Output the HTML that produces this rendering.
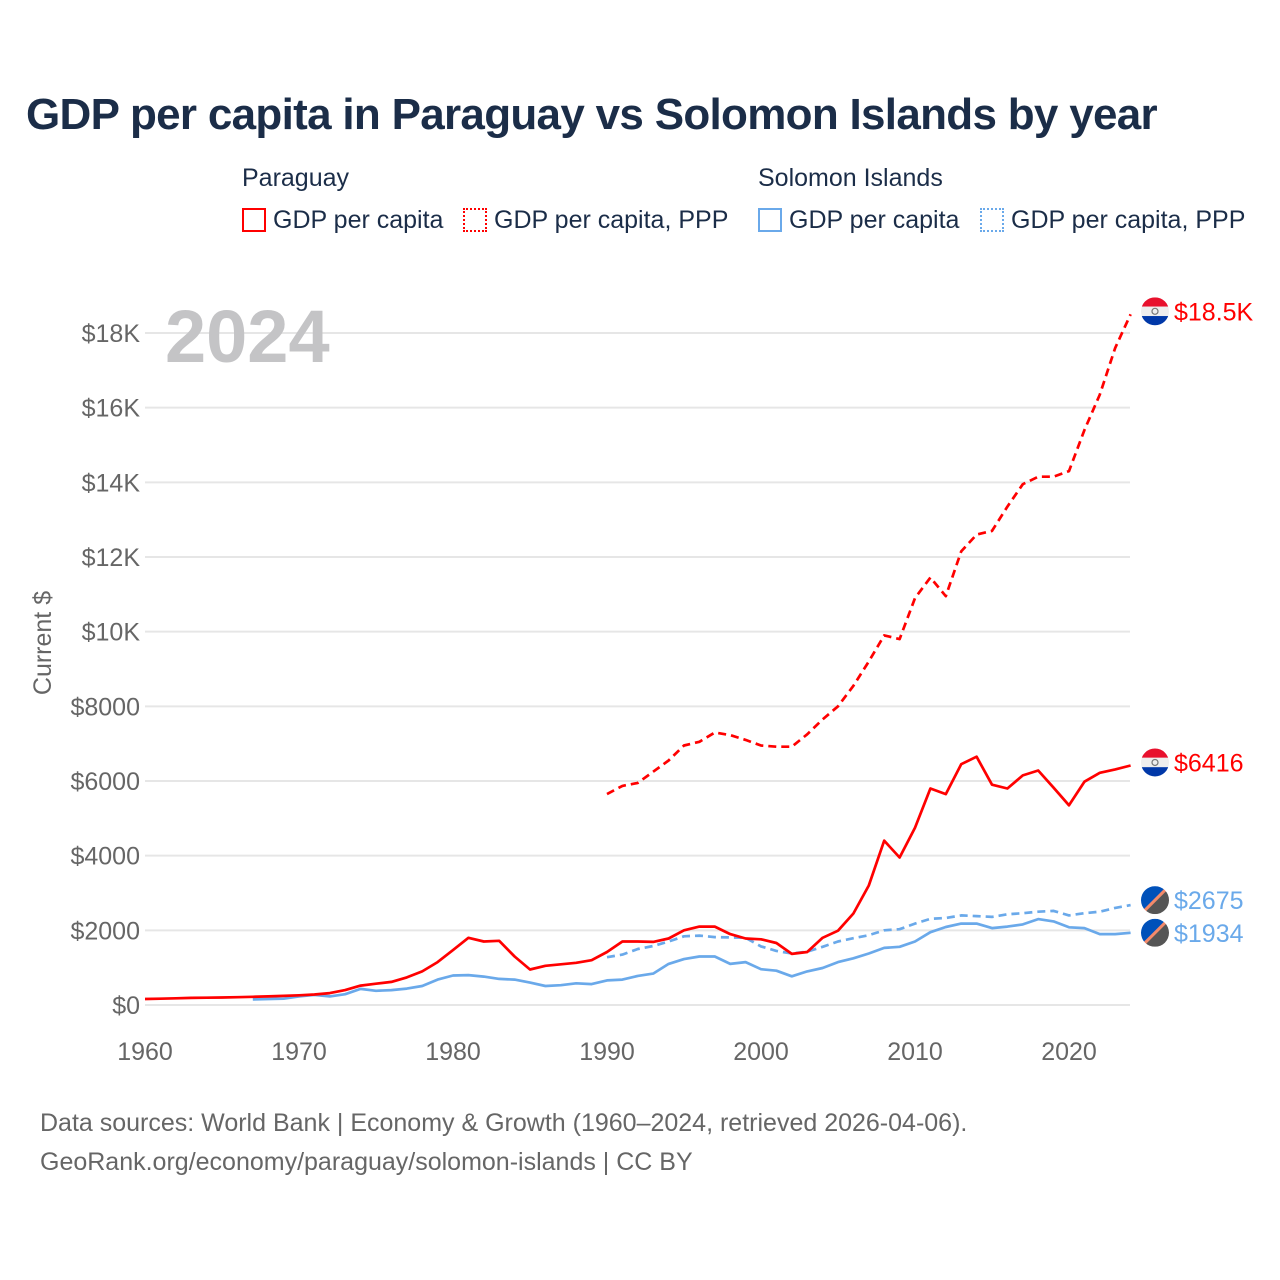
<!DOCTYPE html>
<html><head><meta charset="utf-8">
<style>
body{margin:0;background:#fff;width:1280px;height:1280px;overflow:hidden;font-family:"Liberation Sans",sans-serif;}
#wrap{position:relative;width:1280px;height:1280px;}
.t{position:absolute;white-space:nowrap;}
</style></head><body>
<div id="wrap">
<div class="t" style="left:26px;top:90px;font-size:44px;font-weight:bold;color:#1b2d48;letter-spacing:-0.7px;">GDP per capita in Paraguay vs Solomon Islands by year</div>
<div class="t" style="left:242px;top:164px;font-size:25px;color:#1b2d48;">Paraguay</div>
<div class="t" style="left:758px;top:164px;font-size:25px;color:#1b2d48;">Solomon Islands</div>
<div class="t" style="left:242px;top:206px;font-size:25px;color:#1b2d48;"><span style="display:inline-block;width:24px;height:24px;border:2px solid #f00;box-sizing:border-box;vertical-align:-4px;margin-right:7px;"></span>GDP per capita</div>
<div class="t" style="left:463px;top:206px;font-size:25px;color:#1b2d48;"><span style="display:inline-block;width:24px;height:24px;border:2px dotted #f00;box-sizing:border-box;vertical-align:-4px;margin-right:7px;"></span>GDP per capita, PPP</div>
<div class="t" style="left:758px;top:206px;font-size:25px;color:#1b2d48;"><span style="display:inline-block;width:24px;height:24px;border:2px solid #6aa9ea;box-sizing:border-box;vertical-align:-4px;margin-right:7px;"></span>GDP per capita</div>
<div class="t" style="left:980px;top:206px;font-size:25px;color:#1b2d48;"><span style="display:inline-block;width:24px;height:24px;border:2px dotted #6aa9ea;box-sizing:border-box;vertical-align:-4px;margin-right:7px;"></span>GDP per capita, PPP</div>
<div class="t" style="left:40px;top:1109px;font-size:25px;color:#666;">Data sources: World Bank | Economy &amp; Growth (1960–2024, retrieved 2026-04-06).</div>
<div class="t" style="left:40px;top:1148px;font-size:25px;color:#666;">GeoRank.org/economy/paraguay/solomon-islands | CC BY</div>
<svg id="chart" width="1280" height="1280" style="position:absolute;left:0;top:0;"></svg>
</div>
<script>
const years=[];for(let y=1960;y<=2024;y++)years.push(y);
const xTicks=[1960,1970,1980,1990,2000,2010,2020];
const yTicks=[0,2000,4000,6000,8000,10000,12000,14000,16000,18000];
const yTickLabels=["$0","$2000","$4000","$6000","$8000","$10K","$12K","$14K","$16K","$18K"];
const pyGdpStart=1960;
const pyGdp=[160,170,180,190,195,200,210,220,230,245,260,280,320,400,520,570,620,740,900,1150,1470,1800,1700,1720,1300,950,1050,1090,1130,1200,1420,1700,1700,1690,1780,2000,2100,2100,1900,1780,1760,1660,1370,1420,1800,1990,2450,3200,4400,3950,4750,5800,5650,6450,6650,5900,5800,6150,6280,5820,5350,5980,6220,6310,6416];
const pyPppStart=1990;
const pyPpp=[5650,5870,5950,6250,6550,6950,7050,7300,7230,7100,6950,6920,6920,7250,7650,8000,8550,9200,9900,9800,10900,11450,10950,12150,12600,12700,13350,13950,14150,14150,14300,15400,16350,17600,18500];
const sbGdpStart=1967;
const sbGdp=[150,160,170,230,270,230,290,430,380,400,440,510,680,790,800,760,700,680,600,510,530,580,560,660,680,780,840,1100,1230,1300,1300,1100,1150,960,920,770,900,990,1150,1250,1380,1530,1560,1700,1950,2090,2180,2180,2060,2100,2160,2300,2240,2080,2060,1900,1900,1934];
const sbPppStart=1990;
const sbPpp=[1280,1350,1500,1580,1700,1840,1860,1820,1810,1800,1570,1450,1380,1430,1560,1700,1790,1870,2000,2030,2180,2310,2330,2400,2380,2360,2430,2460,2500,2520,2400,2460,2500,2600,2675];

const X0=145,X1=1069,Y0=1005,Y1=333;
const xs=y=>X0+(y-1960)*(X1-X0)/60;
const ys=v=>Y0-v*(Y0-Y1)/18000;
const svg=document.getElementById('chart');
const NS='http://www.w3.org/2000/svg';
function mk(tag,attrs){const e=document.createElementNS(NS,tag);for(const k in attrs)e.setAttribute(k,attrs[k]);svg.appendChild(e);return e;}

yTicks.forEach((v,i)=>{
  const g=mk('line',{x1:145,x2:1130,y1:ys(v),y2:ys(v),stroke:'#e6e6e6','stroke-width':2});
  
  
  const t=mk('text',{x:140,y:ys(v)+9,'text-anchor':'end','font-size':25,fill:'#666','font-family':'Liberation Sans, sans-serif'});
  t.textContent=yTickLabels[i];
  
  
});
xTicks.forEach(y=>{
  const t=mk('text',{x:xs(y),y:1060,'text-anchor':'middle','font-size':25,fill:'#666','font-family':'Liberation Sans, sans-serif'});
  t.textContent=String(y);
  
  
});
const yt=mk('text',{x:0,y:0,transform:'translate(51,643) rotate(-90)','text-anchor':'middle','font-size':25,fill:'#666','font-family':'Liberation Sans, sans-serif'});
yt.textContent='Current $';


const yr=mk('text',{x:165,y:362,'font-size':74,'font-weight':'bold',fill:'#c4c4c6','font-family':'Liberation Sans, sans-serif'});
yr.textContent='2024';



function series(start,vals,color,dash,name){
  const pts=vals.map((v,i)=>xs(start+i).toFixed(1)+','+ys(v).toFixed(1)).join(' ');
  const p=mk('polyline',{points:pts,fill:'none',stroke:color,'stroke-width':2.7,'stroke-dasharray':dash||'none','stroke-linejoin':'round'});
  
  
}
series(sbPppStart,sbPpp,'#6aa9ea','8,5','line-solomon-ppp');
series(sbGdpStart,sbGdp,'#6aa9ea',null,'line-solomon-gdp');
series(pyPppStart,pyPpp,'#ff0000','8,5','line-paraguay-ppp');
series(pyGdpStart,pyGdp,'#ff0000',null,'line-paraguay-gdp');

function flag(v,dy,kind,color,label,name){
  const cy=ys(v)+dy,cx=1155;
  if(kind==='py'){
    mk('rect',{x:cx-14,y:cy-14,width:28,height:9.3,fill:'#e8112d'});
    mk('rect',{x:cx-14,y:cy-4.7,width:28,height:9.4,fill:'#eee'});
    mk('rect',{x:cx-14,y:cy+4.7,width:28,height:9.3,fill:'#0038a8'});
    mk('circle',{cx:cx,cy:cy,r:3,fill:'none',stroke:'#777','stroke-width':1.2});
  }else{
    mk('polygon',{points:`${cx-14},${cy-14} ${cx+14},${cy-14} ${cx-14},${cy+14}`,fill:'#0051ba'});
    mk('polygon',{points:`${cx+14},${cy-14} ${cx+14},${cy+14} ${cx-14},${cy+14}`,fill:'#555'});
    mk('line',{x1:cx+12,y1:cy-12,x2:cx-12,y2:cy+12,stroke:'#f48a6a','stroke-width':3});
  }
  const c=mk('circle',{cx:cx,cy:cy,r:14,fill:'none',stroke:'#fff','stroke-width':0});
  
  
  mk('path',{d:`M${cx-15},${cy-15} H${cx+15} V${cy+15} H${cx-15} Z M${cx-14},${cy} A14,14 0 1,0 ${cx+14},${cy} A14,14 0 1,0 ${cx-14},${cy} Z`,fill:'#fff','fill-rule':'evenodd'});
  const t=mk('text',{x:1174,y:cy+9,'font-size':25,fill:color,'font-family':'Liberation Sans, sans-serif'});
  t.textContent=label;
  
  
}
flag(pyPpp[pyPpp.length-1],-3,'py','#ff0000','$18.5K','paraguay-ppp');
flag(pyGdp[pyGdp.length-1],-3,'py','#ff0000','$6416','paraguay-gdp');
flag(sbPpp[sbPpp.length-1],-5,'sb','#6aa9ea','$2675','solomon-ppp');
flag(sbGdp[sbGdp.length-1],0,'sb','#6aa9ea','$1934','solomon-gdp');
</script>
</body></html>
